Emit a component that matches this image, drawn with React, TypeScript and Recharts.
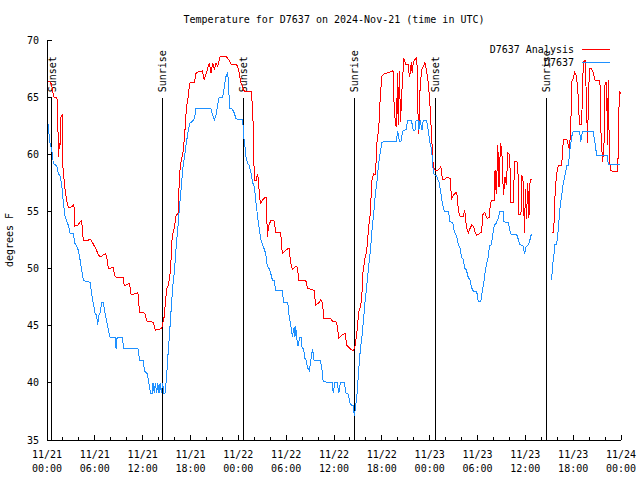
import React from "react";
import { LineChart, Line, XAxis, YAxis, ReferenceLine } from "recharts";

const FONT = "'DejaVu Sans Mono', monospace";
const RED = "#ff0000";
const BLUE = "#1e90ff";

// [hours since 11/21 00:00 UTC, degrees F]; null marks the data gap
const analysis: [number, number | null][] = [
  [0.0, 66.4], [0.35, 66.4], [0.45, 66.2], [0.6, 66.2], [0.65, 65.6], [0.9, 65.0], [1.25, 65.0],
  [1.3, 63.8], [1.4, 61.5], [1.45, 59.8], [1.52, 61.0], [1.62, 60.5], [1.72, 63.2], [1.9, 63.4],
  [1.98, 59.0], [2.2, 57.3], [2.45, 56.0], [2.68, 55.3], [3.1, 55.4], [3.38, 55.6], [3.45, 53.7],
  [3.9, 53.8], [4.15, 54.1], [4.35, 54.2], [4.55, 52.5], [5.2, 52.5], [5.4, 52.6], [5.6, 52.4],
  [6.0, 51.9], [6.4, 51.3], [6.65, 51.0], [7.1, 51.2], [7.35, 51.3], [7.5, 51.0], [7.7, 50.0],
  [8.3, 50.1], [8.5, 49.4], [8.75, 49.2], [9.55, 49.2], [9.7, 48.5], [10.35, 48.7], [10.55, 47.7],
  [11.4, 47.9], [11.6, 46.2], [12.25, 46.1], [12.55, 45.4], [13.35, 45.3], [13.6, 44.6], [14.1, 44.7],
  [14.4, 44.8], [14.7, 45.8], [14.85, 47.0], [15.0, 48.2], [15.25, 48.6], [15.45, 49.6], [15.6, 51.3],
  [15.7, 52.8], [16.0, 53.7], [16.2, 54.7], [16.45, 54.8], [16.62, 58.3], [16.85, 59.5], [17.05, 60.1],
  [17.25, 61.5], [17.48, 64.0], [17.7, 65.0], [17.9, 66.2], [18.1, 66.3], [18.48, 66.3], [18.7, 67.1],
  [18.9, 67.2], [19.5, 67.3], [19.72, 66.5], [20.15, 67.5], [20.36, 68.0], [20.57, 67.1], [20.78, 68.0],
  [20.99, 67.4], [21.2, 68.0], [21.41, 67.7], [21.74, 68.6], [22.45, 68.6], [22.87, 68.2], [23.08, 67.9],
  [23.7, 67.9], [23.92, 67.7], [24.12, 67.1], [24.3, 66.3], [24.55, 65.9], [24.75, 65.5], [25.59, 65.5],
  [25.72, 64.6], [25.88, 62.4], [26.0, 57.7], [26.22, 57.7], [26.3, 58.0], [26.43, 58.3], [26.52, 57.7],
  [26.63, 56.6], [26.76, 55.7], [27.05, 56.0], [27.3, 56.2], [27.55, 56.2], [27.62, 52.8], [27.8, 53.7],
  [28.06, 54.2], [28.47, 54.2], [28.69, 53.2], [29.3, 53.2], [29.52, 51.3], [29.94, 51.6], [30.36, 51.8],
  [30.57, 50.5], [30.78, 49.9], [31.2, 50.2], [31.4, 50.1], [31.6, 49.0], [32.45, 49.0], [32.66, 48.3],
  [33.5, 48.1], [33.7, 46.8], [34.1, 47.0], [34.33, 47.3], [34.54, 47.0], [34.75, 45.6], [35.6, 45.6],
  [35.8, 45.4], [36.2, 45.4], [36.4, 45.0], [36.6, 43.9], [37.0, 44.2], [37.4, 44.3], [37.6, 43.3],
  [38.0, 43.0], [38.45, 42.8], [38.65, 43.3], [38.85, 44.3], [39.1, 46.2], [39.35, 46.7], [39.5, 47.7],
  [39.6, 49.5], [39.9, 51.0], [40.1, 51.5], [40.35, 53.7], [40.55, 54.8], [40.75, 57.7], [40.98, 58.3],
  [41.2, 58.2], [41.4, 61.2], [41.6, 62.1], [41.8, 65.0], [42.0, 66.8], [42.2, 67.0], [42.6, 67.1],
  [43.0, 67.2], [43.4, 67.3], [43.56, 63.9], [43.7, 62.8], [43.8, 62.4], [43.88, 63.8], [43.95, 67.1],
  [44.05, 62.6], [44.2, 67.3], [44.35, 62.8], [44.5, 65.3], [44.75, 68.4], [45.0, 67.9], [45.3, 67.9],
  [45.45, 66.8], [45.55, 67.1], [45.7, 68.1], [45.8, 67.1], [45.95, 68.1], [46.16, 68.3], [46.37, 68.5],
  [46.45, 67.2], [46.58, 61.8], [46.7, 63.0], [46.8, 65.9], [47.0, 67.4], [47.4, 68.0], [47.6, 67.4],
  [47.83, 66.2], [48.0, 64.8], [48.25, 61.5], [48.4, 59.4], [48.5, 58.9], [48.7, 58.6], [49.05, 58.6],
  [49.4, 58.9], [49.6, 57.8], [49.9, 57.8], [50.1, 58.0], [50.55, 57.9], [50.76, 56.1], [50.97, 56.4],
  [51.2, 56.6], [51.4, 56.7], [51.6, 55.1], [51.8, 54.6], [52.2, 54.6], [52.4, 55.1], [52.6, 53.7],
  [52.85, 53.1], [53.06, 53.5], [53.27, 53.8], [53.5, 53.7], [53.7, 53.2], [53.9, 52.9], [54.3, 53.1],
  [54.5, 53.2], [54.7, 54.8], [54.9, 54.9], [55.2, 54.4], [55.5, 54.5], [55.6, 55.7], [55.86, 56.0],
  [56.1, 56.0], [56.2, 58.6], [56.35, 56.5], [56.55, 60.8], [56.7, 57.1], [56.88, 61.0], [57.05, 60.3],
  [57.25, 56.4], [57.45, 58.0], [57.62, 57.3], [57.8, 60.1], [58.05, 60.0], [58.15, 55.8], [58.5, 55.8],
  [58.65, 59.4], [58.95, 59.4], [59.08, 58.3], [59.2, 54.7], [59.45, 54.7], [59.55, 58.2], [59.75, 57.5],
  [59.88, 53.1], [60.02, 57.0], [60.15, 54.3], [60.3, 57.5], [60.45, 54.4], [60.6, 57.8], [60.78, 57.8],
  [61.5, null],
  [63.3, 53.2], [63.55, 53.2], [63.62, 54.3], [63.72, 56.3], [63.85, 57.7], [64.0, 58.6], [64.14, 59.0],
  [64.56, 59.0], [64.7, 60.7], [64.85, 61.3], [65.2, 61.3], [65.5, 60.5], [65.7, 62.0], [65.8, 66.3],
  [66.0, 66.6], [66.2, 67.2], [66.43, 66.8], [66.65, 64.9], [66.78, 62.6], [67.07, 62.6], [67.2, 66.8],
  [67.37, 68.2], [67.5, 68.2], [67.7, 64.2], [67.78, 61.0], [67.9, 63.9], [68.03, 67.5], [68.3, 67.5],
  [68.5, 67.2], [68.74, 66.5], [69.36, 66.5], [69.45, 62.4], [69.6, 60.4], [69.7, 59.3], [69.87, 61.0],
  [70.0, 66.2], [70.2, 66.3], [70.3, 60.8], [70.4, 66.5], [70.55, 59.7], [70.7, 58.6], [71.05, 58.5],
  [71.6, 58.5], [71.7, 62.7], [71.8, 65.5], [71.95, 65.3],
];

const station: [number, number | null][] = [
  [0.0, 63.6], [0.05, 63.4], [0.15, 62.4], [0.38, 61.0], [0.59, 60.4], [0.8, 59.2], [1.21, 59.0],
  [1.42, 58.3], [1.63, 58.1], [1.84, 57.4], [2.05, 55.8], [2.26, 54.6], [2.47, 54.1], [2.68, 53.8],
  [2.89, 53.1], [3.3, 53.1], [3.51, 52.2], [3.72, 52.0], [3.93, 51.6], [4.14, 50.8], [4.35, 49.9],
  [4.56, 49.0], [4.77, 48.9], [5.4, 48.8], [5.6, 47.8], [5.8, 47.0], [6.02, 46.1], [6.23, 45.9],
  [6.36, 45.1], [6.52, 45.9], [6.65, 46.1], [6.86, 47.0], [7.07, 47.0], [7.27, 46.1], [7.48, 45.4],
  [7.7, 44.6], [7.9, 44.0], [8.53, 44.0], [8.66, 43.0], [8.8, 44.0], [9.4, 44.0], [9.66, 43.0],
  [11.41, 43.0], [11.62, 42.0], [12.04, 42.0], [12.25, 41.0], [12.58, 40.8], [12.75, 40.1], [13.0, 39.1],
  [13.2, 39.1], [13.3, 40.0], [13.45, 39.1], [13.6, 40.0], [13.75, 39.1], [13.9, 40.0], [14.05, 39.1],
  [14.2, 40.0], [14.35, 39.1], [14.5, 40.0], [14.65, 39.1], [14.8, 39.1], [15.0, 40.5], [15.2, 42.7],
  [15.4, 44.6], [15.6, 46.7], [15.8, 48.6], [16.0, 49.9], [16.2, 51.9], [16.43, 53.7], [16.64, 55.6],
  [16.85, 57.2], [17.06, 58.9], [17.27, 59.9], [17.48, 61.0], [17.7, 62.0], [17.9, 62.7], [18.1, 62.8],
  [18.48, 63.1], [18.69, 64.0], [20.57, 64.0], [20.78, 63.4], [20.99, 63.0], [21.2, 63.4], [21.4, 64.3],
  [21.6, 65.0], [22.03, 65.0], [22.24, 65.9], [22.45, 66.8], [22.66, 67.1], [22.75, 66.5], [22.9, 64.0],
  [23.2, 64.0], [23.5, 63.6], [23.7, 63.1], [24.55, 63.0], [24.68, 61.5], [24.83, 60.7], [24.96, 59.8],
  [25.17, 59.2], [25.38, 59.0], [25.6, 58.3], [25.8, 57.5], [26.0, 57.2], [26.22, 55.7], [26.43, 54.5],
  [26.63, 53.4], [26.85, 52.5], [27.05, 52.1], [27.3, 51.6], [27.43, 51.3], [27.64, 50.2], [27.85, 50.0],
  [28.06, 49.6], [28.27, 49.0], [28.48, 49.0], [28.7, 48.1], [29.5, 48.1], [29.7, 47.0], [30.2, 47.0],
  [30.36, 45.9], [30.57, 45.1], [30.78, 44.0], [31.0, 44.9], [31.1, 44.0], [31.2, 45.0], [31.3, 44.0],
  [31.5, 43.2], [31.7, 44.0], [31.9, 44.0], [32.0, 43.0], [32.2, 43.0], [32.3, 42.2], [32.5, 42.0],
  [32.7, 41.3], [32.9, 41.1], [33.1, 42.0], [33.3, 43.0], [33.5, 42.0], [34.3, 42.0], [34.5, 41.1],
  [34.65, 40.1], [35.8, 40.0], [35.9, 39.1], [36.1, 40.0], [36.4, 40.0], [36.6, 39.1], [36.8, 40.0],
  [37.3, 40.0], [37.5, 39.1], [37.8, 39.0], [38.05, 38.1], [38.4, 38.0], [38.55, 37.1], [38.7, 37.9],
  [38.9, 39.1], [39.1, 41.1], [39.3, 42.9], [39.5, 44.0], [39.7, 45.5], [39.9, 47.2], [40.1, 48.4],
  [40.3, 49.9], [40.56, 51.5], [40.77, 53.4], [40.98, 54.8], [41.2, 56.6], [41.4, 57.7], [41.6, 59.2],
  [41.8, 60.2], [42.0, 61.0], [42.2, 61.1], [43.8, 61.1], [44.0, 62.0], [44.2, 61.1], [44.4, 61.1],
  [44.6, 62.0], [44.8, 62.1], [45.1, 62.2], [45.2, 63.0], [45.7, 63.0], [45.95, 62.1], [46.16, 62.1],
  [46.3, 63.0], [46.58, 63.0], [46.65, 62.1], [46.8, 63.0], [47.05, 62.1], [47.2, 63.0], [47.6, 63.0],
  [47.83, 62.1], [48.0, 61.1], [48.25, 60.4], [48.4, 58.9], [48.5, 58.3], [48.87, 58.1], [49.2, 57.5],
  [49.4, 56.6], [49.6, 55.7], [49.85, 55.0], [50.35, 55.0], [50.55, 54.1], [50.9, 54.0], [51.1, 53.2],
  [51.4, 52.8], [51.6, 52.1], [51.8, 51.8], [52.0, 51.0], [52.2, 50.8], [52.4, 50.0], [52.6, 49.9],
  [52.85, 49.2], [53.06, 49.0], [53.27, 48.3], [53.5, 48.0], [53.9, 48.0], [54.1, 47.1], [54.4, 47.1],
  [54.6, 48.0], [54.8, 48.8], [54.94, 49.6], [55.15, 50.5], [55.3, 50.8], [55.5, 52.0], [55.74, 52.1],
  [55.9, 52.9], [56.1, 53.8], [56.3, 53.9], [56.6, 54.4], [56.8, 55.0], [57.2, 55.0], [57.3, 54.1],
  [57.9, 54.0], [58.0, 53.5], [58.2, 53.0], [58.9, 53.0], [59.1, 52.6], [59.3, 52.1], [59.7, 52.0],
  [59.9, 51.3], [60.1, 51.9], [60.3, 52.0], [60.5, 52.3], [60.75, 53.0],
  [61.5, null],
  [63.3, 49.0], [63.4, 50.2], [63.6, 51.3], [63.72, 52.1], [63.93, 52.1], [64.14, 53.5], [64.35, 55.3],
  [64.56, 56.4], [64.77, 57.5], [65.0, 58.3], [65.2, 59.0], [65.4, 59.0], [65.6, 60.4], [65.8, 61.5],
  [66.0, 62.0], [66.8, 62.0], [66.95, 61.1], [67.16, 62.0], [68.5, 62.0], [68.74, 61.0], [68.95, 59.9],
  [70.3, 59.9], [70.4, 59.1], [71.9, 59.1],
];

const hourTicks = [0, 2, 4, 6, 8, 10, 12, 14, 16, 18, 20, 22, 24, 26, 28, 30, 32, 34, 36, 38, 40, 42, 44, 46, 48, 50, 52, 54, 56, 58, 60, 62, 64, 66, 68, 70, 72];
const majorHours = [0, 6, 12, 18, 24, 30, 36, 42, 48, 54, 60, 66, 72];
const tickDates = ["11/21", "11/21", "11/21", "11/21", "11/22", "11/22", "11/22", "11/22", "11/23", "11/23", "11/23", "11/23", "11/24"];
const tickTimes = ["00:00", "06:00", "12:00", "18:00", "00:00", "06:00", "12:00", "18:00", "00:00", "06:00", "12:00", "18:00", "00:00"];
const tempTicks = [35, 40, 45, 50, 55, 60, 65, 70];

const sunHours = [0.59, 14.47, 24.63, 38.56, 48.71, 62.64];
const sunNames = ["Sunset", "Sunrise", "Sunset", "Sunrise", "Sunset", "Sunrise"];
const SUN_LINE_TOP = 64.9;

const toRows = (pts: [number, number | null][]) => pts.map(([h, t]) => ({ h, t }));
const analysisRows = toRows(analysis);
const stationRows = toRows(station);

const txt = { fontFamily: FONT, fontSize: 10, fill: "#000" };

function BottomTick(props: any) {
  const { x, y, payload } = props;
  const i = majorHours.indexOf(payload.value);
  return (
    <g>
      <line x1={x} x2={x} y1={y} y2={y - (i >= 0 ? 5 : 3)} stroke="#000" shapeRendering="crispEdges" />
      {i >= 0 && (
        <text x={x} y={y + 18} textAnchor="middle" {...txt}>
          <tspan x={x}>{tickDates[i]}</tspan>
          <tspan x={x} dy={13.5}>{tickTimes[i]}</tspan>
        </text>
      )}
    </g>
  );
}

function TopTick(props: any) {
  const { x, y, payload } = props;
  const major = majorHours.indexOf(payload.value) >= 0;
  return <line x1={x} x2={x} y1={y} y2={y + (major ? 5 : 3)} stroke="#000" shapeRendering="crispEdges" />;
}

function LeftTick(props: any) {
  const { x, y, payload } = props;
  return (
    <g>
      <line x1={x} x2={x + 5} y1={y} y2={y} stroke="#000" shapeRendering="crispEdges" />
      <text x={x - 8} y={y} dy="0.35em" textAnchor="end" {...txt}>{payload.value}</text>
    </g>
  );
}

function RightTick(props: any) {
  const { x, y } = props;
  return <line x1={x} x2={x - 5} y1={y} y2={y} stroke="#000" shapeRendering="crispEdges" />;
}

function SunLabel(props: any) {
  const { viewBox, text } = props;
  if (!viewBox) return null;
  const x = viewBox.x + 4;
  const y = viewBox.y - 6;
  return (
    <text x={x} y={y} transform={`rotate(-90 ${x} ${y})`} textAnchor="start" {...txt}>
      {text}
    </text>
  );
}

export default function App() {
  return (
    <div style={{ position: "relative", width: 640, height: 480, background: "#fff" }}>
      <style>{"body{margin:0;background:#fff}"}</style>
      <LineChart width={640} height={480} margin={{ top: 40, right: 19, bottom: 0, left: 0 }}>
        <XAxis dataKey="h" type="number" domain={[0, 72]} allowDataOverflow ticks={hourTicks} interval={0}
          height={40} tickSize={0} tickMargin={0} tickLine={false} tick={<BottomTick />}
          axisLine={{ stroke: "#000", shapeRendering: "crispEdges" }} />
        <XAxis xAxisId="top" orientation="top" dataKey="h" type="number" domain={[0, 72]} allowDataOverflow
          ticks={hourTicks} interval={0} height={0} tickSize={0} tickMargin={0} tickLine={false}
          tick={<TopTick />} axisLine={{ stroke: "#000", shapeRendering: "crispEdges" }} />
        <YAxis type="number" domain={[35, 70]} allowDataOverflow ticks={tempTicks} interval={0} width={47}
          tickSize={0} tickMargin={0} tickLine={false} tick={<LeftTick />}
          axisLine={{ stroke: "#000", shapeRendering: "crispEdges" }} />
        <YAxis yAxisId="right" orientation="right" type="number" domain={[35, 70]} allowDataOverflow
          ticks={tempTicks} interval={0} width={0} tickSize={0} tickMargin={0} tickLine={false}
          tick={<RightTick />} axisLine={{ stroke: "#000", shapeRendering: "crispEdges" }} />
        {sunHours.map((h, i) => (
          <ReferenceLine key={i} segment={[{ x: h, y: 35 }, { x: h, y: SUN_LINE_TOP }]} stroke="#000"
            shapeRendering="crispEdges" label={<SunLabel text={sunNames[i]} />} />
        ))}
        <Line data={analysisRows} dataKey="t" name="D7637 Analysis" type="linear" stroke={RED} strokeWidth={1}
          shapeRendering="crispEdges" dot={false} activeDot={false} isAnimationActive={false} />
        <Line data={stationRows} dataKey="t" name="D7637" type="linear" stroke={BLUE} strokeWidth={1}
          shapeRendering="crispEdges" dot={false} activeDot={false} isAnimationActive={false} />
      </LineChart>
      <svg width={640} height={480} style={{ position: "absolute", left: 0, top: 0, pointerEvents: "none" }}>
        <text x={334} y={23} textAnchor="middle" {...txt}>Temperature for D7637 on 2024-Nov-21 (time in UTC)</text>
        <text x={13} y={240} textAnchor="middle" transform="rotate(-90 13 240)" {...txt}>degrees F</text>
        <text x={574} y={53} textAnchor="end" {...txt}>D7637 Analysis</text>
        <line x1={582} x2={610} y1={49.5} y2={49.5} stroke={RED} shapeRendering="crispEdges" />
        <text x={574} y={66} textAnchor="end" {...txt}>D7637</text>
        <line x1={582} x2={610} y1={62.5} y2={62.5} stroke={BLUE} shapeRendering="crispEdges" />
      </svg>
    </div>
  );
}
